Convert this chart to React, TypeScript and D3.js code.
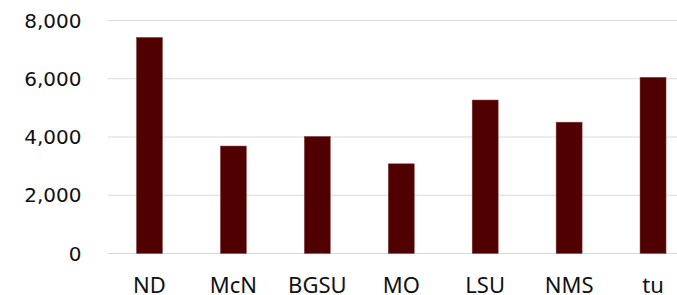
import { useMemo } from "react";
import * as d3 from "d3";

const WIDTH = 677;
const HEIGHT = 295;
const MARGIN = { top: 20.5, right: -18, bottom: 41.5, left: 107.5 }; // plot runs past the right edge

const schools = ["ND", "McN", "BGSU", "MO", "LSU", "NMS", "tu"];
const counts = [7420, 3690, 4020, 3080, 5270, 4510, 6050];
const yTicks = [0, 2000, 4000, 6000, 8000];

const App = () => {
  const boundsWidth = WIDTH - MARGIN.left - MARGIN.right;
  const boundsHeight = HEIGHT - MARGIN.top - MARGIN.bottom;

  const xScale = useMemo(
    () =>
      d3
        .scaleBand<string>()
        .domain(schools)
        .range([0, boundsWidth])
        .paddingInner(0.69)
        .paddingOuter(0.345),
    [boundsWidth]
  );

  const yScale = useMemo(
    () => d3.scaleLinear().domain([0, 8000]).range([boundsHeight, 0]),
    [boundsHeight]
  );

  const fmt = d3.format(",");

  return (
    <svg
      width={WIDTH}
      height={HEIGHT}
      style={{ position: "absolute", left: 0, top: 0, display: "block" }}
    >
      <rect width={WIDTH} height={HEIGHT} fill="white" />
      <g transform={`translate(${MARGIN.left},${MARGIN.top})`}>
        {/* grid */}
        {yTicks.map((t) => (
          <line
            key={t}
            x1={0}
            x2={boundsWidth}
            y1={yScale(t)}
            y2={yScale(t)}
            stroke="#d9d9d9"
            strokeWidth={1}
          />
        ))}
        {/* bars */}
        {schools.map((s, i) => (
          <rect
            key={s}
            x={xScale(s)}
            y={yScale(counts[i])}
            width={xScale.bandwidth()}
            height={boundsHeight - yScale(counts[i])}
            fill="#500000"
            stroke="#8a4a4a"
            strokeWidth={0.5}
          />
        ))}
        {/* y labels */}
        {yTicks.map((t) => (
          <text
            key={t}
            x={-26}
            y={yScale(t)}
            dy="0.35em"
            textAnchor="end"
            fontFamily="DejaVu Sans"
            fontSize={20}
            fill="#111"
          >
            {fmt(t)}
          </text>
        ))}
        {/* x labels */}
        {schools.map((s) => (
          <text
            key={s}
            x={(xScale(s) ?? 0) + xScale.bandwidth() / 2}
            y={boundsHeight + 39.5}
            textAnchor="middle"
            fontFamily="Noto Sans"
            fontSize={22}
            fill="#111"
          >
            {s}
          </text>
        ))}
      </g>
    </svg>
  );
};

export default App;
